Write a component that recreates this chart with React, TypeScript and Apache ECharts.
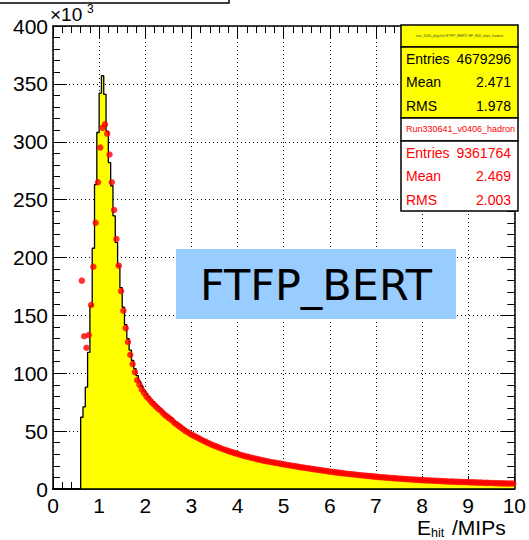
import React, { useEffect, useRef } from "react";
import * as echarts from "echarts";

// Histogram binning: 0.05 MIP bins, first filled bin starts at 0.6
const binWidth = 0.05;
const firstEdge = 0.6;

// Simulation (FTFP_BERT), entries per bin in units of 10^3
const mcCounts = [
  62, 71, 88, 118, 158, 208, 263, 308,
  342, 357, 341, 309, 282, 262, 236, 213, 193, 174,
  157, 142, 130, 120, 111, 104, 98, 93, 89, 85.5,
  82.5, 80, 77.5, 75.5, 73.5, 71.5, 69.5, 67.5, 65.5, 64,
  62.5, 61, 59, 57.5, 56, 54.5, 53, 51.5, 50, 48.8,
  47.6, 46.5, 45.4, 44.3, 43.2, 42.1, 41.1, 40.1, 39.1, 38.2,
  37.3, 36.4, 35.5, 34.7, 33.9, 33.2, 32.5, 31.8, 31.1, 30.5,
  29.9, 29.3, 28.7, 28.2, 27.6, 27.1, 26.6, 26.1, 25.7, 25.2,
  24.8, 24.3, 23.9, 23.5, 23.1, 22.7, 22.4, 22.0, 21.7, 21.3,
  21.0, 20.6, 20.3, 19.9, 19.6, 19.3, 19.0, 18.6, 18.3, 18.0,
  17.7, 17.4, 17.1, 16.8, 16.5, 16.2, 15.9, 15.6, 15.3, 15.0,
  14.8, 14.5, 14.3, 14.0, 13.8, 13.5, 13.3, 13.1, 12.8, 12.6,
  12.4, 12.2, 12.0, 11.8, 11.6, 11.4, 11.2, 11.0, 10.8, 10.6,
  10.4, 10.2, 10.0, 9.9, 9.7, 9.6, 9.4, 9.3, 9.1, 9.0,
  8.8, 8.7, 8.5, 8.4, 8.3, 8.1, 8.0, 7.9, 7.8, 7.6,
  7.5, 7.4, 7.3, 7.2, 7.1, 7.0, 6.9, 6.8, 6.7, 6.6,
  6.5, 6.4, 6.3, 6.3, 6.2, 6.1, 6.0, 5.9, 5.9, 5.8,
  5.7, 5.6, 5.6, 5.5, 5.4, 5.4, 5.3, 5.2, 5.2, 5.1,
  5.1, 5.0, 4.9, 4.9, 4.8, 4.8, 4.7, 4.7, 4.6, 4.6,
];

// Beam data (Run330641), entries per bin in units of 10^3
const dataCounts = [
  180, 132, 122, 133, 159, 192, 230, 265,
  295, 312, 315, 307, 289, 265, 241, 216, 193, 171,
  154, 139, 127, 116, 108, 101, 94, 90, 86, 83,
  80, 78, 75.5, 73.5, 71.5, 69.5, 68, 66, 64, 62.5,
  61, 59.5, 57.5, 56, 54.5, 53, 51.5, 50, 49, 47.5,
  46.5, 45.5, 44.5, 43.5, 42.3, 41.4, 40.5, 39.5, 38.6, 37.8,
  37, 36.2, 35.4, 34.6, 33.9, 33.2, 32.5, 31.9, 31.2, 30.6,
  30.0, 29.4, 28.8, 28.3, 27.8, 27.2, 26.8, 26.3, 25.8, 25.4,
  24.9, 24.5, 24.1, 23.7, 23.3, 22.9, 22.6, 22.2, 21.9, 21.5,
  21.2, 20.8, 20.5, 20.1, 19.8, 19.5, 19.1, 18.8, 18.5, 18.2,
  17.9, 17.6, 17.3, 17.0, 16.7, 16.4, 16.1, 15.8, 15.5, 15.2,
  14.9, 14.7, 14.4, 14.2, 13.9, 13.7, 13.4, 13.2, 13.0, 12.8,
  12.5, 12.3, 12.1, 11.9, 11.7, 11.5, 11.3, 11.1, 10.9, 10.7,
  10.5, 10.3, 10.2, 10.0, 9.8, 9.7, 9.5, 9.4, 9.2, 9.1,
  8.9, 8.8, 8.6, 8.5, 8.4, 8.2, 8.1, 8.0, 7.9, 7.7,
  7.6, 7.5, 7.4, 7.3, 7.2, 7.1, 7.0, 6.9, 6.8, 6.7,
  6.6, 6.5, 6.4, 6.4, 6.3, 6.2, 6.1, 6.0, 6.0, 5.9,
  5.8, 5.7, 5.7, 5.6, 5.5, 5.5, 5.4, 5.3, 5.3, 5.2,
  5.2, 5.1, 5.0, 5.0, 4.9, 4.9, 4.8, 4.8, 4.7, 4.7,
];

const xTicks = [0, 1, 2, 3, 4, 5, 6, 7, 8, 9, 10];
const yTicks = [0, 50, 100, 150, 200, 250, 300, 350, 400];

const mcStats = [
  ["Entries", "4679296"],
  ["Mean", "2.471"],
  ["RMS", "1.978"],
];
const dataStats = [
  ["Entries", "9361764"],
  ["Mean", "2.469"],
  ["RMS", "2.003"],
];
const mcTitle = "sim_1000_physlist:/FTFP_BERT/ HF_800_mips_hadron";
const dataTitle = "Run330641_v0406_hadron";
const modelLabel = "FTFP_BERT";

const ROOT_FONT = "'Liberation Sans', Arial, sans-serif";

export default function App() {
  const ref = useRef<HTMLDivElement>(null);

  useEffect(() => {
    if (!ref.current) return;
    const chart = echarts.init(ref.current, undefined, { renderer: "svg" });

    // Step outline: left edge of each bin, closed at the upper range
    const mcStep: number[][] = [[xTicks[0], 0]];
    mcCounts.forEach((v, i) => {
      mcStep.push([+(firstEdge + i * binWidth).toFixed(3), v]);
    });
    mcStep.push([xTicks[xTicks.length - 1], mcCounts[mcCounts.length - 1]]);

    const dataPts = dataCounts.map((v, i) => [
      +(firstEdge + (i + 0.5) * binWidth).toFixed(3),
      v,
    ]);

    const xMin = xTicks[0];
    const xMax = xTicks[xTicks.length - 1];
    const xStep = xTicks[1] - xTicks[0];
    const yMin = yTicks[0];
    const yMax = yTicks[yTicks.length - 1];
    const yStep = yTicks[1] - yTicks[0];

    const tickStyle = { color: "#000", width: 1 };
    const gridLine = {
      show: true,
      lineStyle: { color: "#000", width: 1, type: [1, 3] as any },
    };

    const statsRows = (
      rows: string[][],
      top: number,
      color: string
    ): any[] =>
      rows.flatMap(([k, v], i) => [
        {
          type: "text",
          x: 406,
          y: top + i * 23.7,
          z: 30,
          style: {
            text: k,
            fill: color,
            font: `14px ${ROOT_FONT}`,
            verticalAlign: "middle",
            align: "left",
          },
        },
        {
          type: "text",
          x: 511,
          y: top + i * 23.7,
          z: 30,
          style: {
            text: v,
            fill: color,
            font: `14px ${ROOT_FONT}`,
            verticalAlign: "middle",
            align: "right",
          },
        },
      ]);

    chart.setOption({
      animation: false,
      backgroundColor: "#fff",
      grid: { left: 53, right: 13, top: 26, bottom: 51, containLabel: false },
      xAxis: [
        {
          type: "value",
          min: xMin,
          max: xMax,
          interval: xStep,
          position: "bottom",
          axisLine: { show: true, onZero: false, lineStyle: { color: "#000", width: 1.5 } },
          axisTick: { show: true, inside: true, length: 13, lineStyle: tickStyle },
          minorTick: { show: true, splitNumber: 5, length: 7, lineStyle: tickStyle },
          axisLabel: {
            show: true,
            color: "#000",
            fontSize: 21,
            fontFamily: ROOT_FONT,
            margin: 6,
          },
          splitLine: gridLine,
          z: 0,
        },
        {
          type: "value",
          min: xMin,
          max: xMax,
          interval: xStep,
          position: "top",
          axisLine: { show: true, onZero: false, lineStyle: { color: "#000", width: 1.5 } },
          axisTick: { show: true, inside: true, length: 13, lineStyle: tickStyle },
          minorTick: { show: true, splitNumber: 5, length: 7, lineStyle: tickStyle },
          axisLabel: { show: false },
          splitLine: { show: false },
          z: 0,
        },
        {
          // frame edge redrawn above the filled histogram
          type: "value",
          min: xMin,
          max: xMax,
          position: "bottom",
          axisLine: { show: true, onZero: false, lineStyle: { color: "#000", width: 1.5 } },
          axisTick: { show: false },
          axisLabel: { show: false },
          splitLine: { show: false },
          z: 10,
        },
      ],
      yAxis: [
        {
          type: "value",
          min: yMin,
          max: yMax,
          interval: yStep,
          position: "left",
          axisLine: { show: true, onZero: false, lineStyle: { color: "#000", width: 1.5 } },
          axisTick: { show: true, inside: true, length: 14, lineStyle: tickStyle },
          minorTick: { show: true, splitNumber: 5, length: 7, lineStyle: tickStyle },
          axisLabel: {
            show: true,
            color: "#000",
            fontSize: 21,
            fontFamily: ROOT_FONT,
            margin: 5,
          },
          splitLine: gridLine,
          z: 0,
        },
        {
          type: "value",
          min: yMin,
          max: yMax,
          interval: yStep,
          position: "right",
          axisLine: { show: true, onZero: false, lineStyle: { color: "#000", width: 1.5 } },
          axisTick: { show: true, inside: true, length: 14, lineStyle: tickStyle },
          minorTick: { show: true, splitNumber: 5, length: 7, lineStyle: tickStyle },
          axisLabel: { show: false },
          splitLine: { show: false },
          z: 0,
        },
      ],
      series: [
        {
          name: "FTFP_BERT",
          type: "line",
          xAxisIndex: 0,
          yAxisIndex: 0,
          data: mcStep,
          step: "end",
          symbol: "none",
          lineStyle: { color: "#000", width: 1.3 },
          areaStyle: { color: "#ffff00", opacity: 1, origin: "start" },
          z: 2,
        },
        {
          name: dataTitle,
          type: "scatter",
          xAxisIndex: 0,
          yAxisIndex: 0,
          data: dataPts,
          symbol: "circle",
          symbolSize: 6.5,
          itemStyle: { color: "#ff0000" },
          z: 3,
        },
      ],
      graphic: [
        // lower edge of the canvas title box
        {
          type: "rect",
          shape: { x: -5, y: -30, width: 234, height: 33 },
          style: { fill: "#fff", stroke: "#000", lineWidth: 1.5 },
          z: 20,
        },
        // axis multiplier
        {
          type: "text",
          x: 50,
          y: 14,
          z: 20,
          style: {
            text: "×10",
            fill: "#000",
            font: `19px ${ROOT_FONT}`,
            verticalAlign: "middle",
            align: "left",
          },
        },
        {
          type: "text",
          x: 87,
          y: 9,
          z: 20,
          style: {
            text: "3",
            fill: "#000",
            font: `12px ${ROOT_FONT}`,
            verticalAlign: "middle",
            align: "left",
          },
        },
        // x-axis title
        {
          type: "text",
          x: 417,
          y: 527.5,
          z: 20,
          style: {
            text: "E",
            fill: "#000",
            font: `21px ${ROOT_FONT}`,
            verticalAlign: "middle",
            align: "left",
          },
        },
        {
          type: "text",
          x: 431,
          y: 532.5,
          z: 20,
          style: {
            text: "hit",
            fill: "#000",
            font: `12.5px ${ROOT_FONT}`,
            verticalAlign: "middle",
            align: "left",
          },
        },
        {
          type: "text",
          x: 452,
          y: 527.5,
          z: 20,
          style: {
            text: "/MIPs",
            fill: "#000",
            font: `21px ${ROOT_FONT}`,
            verticalAlign: "middle",
            align: "left",
          },
        },
        // stats boxes
        {
          type: "rect",
          z: 25,
          shape: { x: 401, y: 25, width: 117, height: 22 },
          style: { fill: "#ffff00", stroke: "#000", lineWidth: 1.5 },
        },
        {
          type: "text",
          x: 459.5,
          y: 36,
          z: 30,
          style: {
            text: mcTitle,
            fill: "#444",
            font: `3.5px ${ROOT_FONT}`,
            verticalAlign: "middle",
            align: "center",
          },
        },
        {
          type: "rect",
          z: 25,
          shape: { x: 401, y: 47, width: 117, height: 71 },
          style: { fill: "#ffff00", stroke: "#000", lineWidth: 1.5 },
        },
        ...statsRows(mcStats, 58.5, "#000"),
        {
          type: "rect",
          z: 25,
          shape: { x: 401, y: 118, width: 117, height: 23 },
          style: { fill: "#fff", stroke: "#000", lineWidth: 1.5 },
        },
        {
          type: "text",
          x: 406,
          y: 129,
          z: 30,
          style: {
            text: dataTitle,
            fill: "#ff0000",
            font: `9px ${ROOT_FONT}`,
            verticalAlign: "middle",
            align: "left",
          },
        },
        {
          type: "rect",
          z: 25,
          shape: { x: 401, y: 141, width: 117, height: 70 },
          style: { fill: "#fff", stroke: "#000", lineWidth: 1.5 },
        },
        ...statsRows(dataStats, 152.5, "#ff0000"),
        // physics-list label
        {
          type: "rect",
          z: 25,
          shape: { x: 176, y: 249, width: 280, height: 70 },
          style: { fill: "#99ccff" },
        },
        {
          type: "text",
          x: 316,
          y: 285,
          z: 30,
          style: {
            text: modelLabel,
            fill: "#000",
            font: `43px 'DejaVu Sans', sans-serif`,
            verticalAlign: "middle",
            align: "center",
          },
        },
      ],
    });

    return () => chart.dispose();
  }, []);

  return (
    <div
      ref={ref}
      style={{ position: "absolute", left: 0, top: 0, width: 529, height: 540 }}
    />
  );
}
